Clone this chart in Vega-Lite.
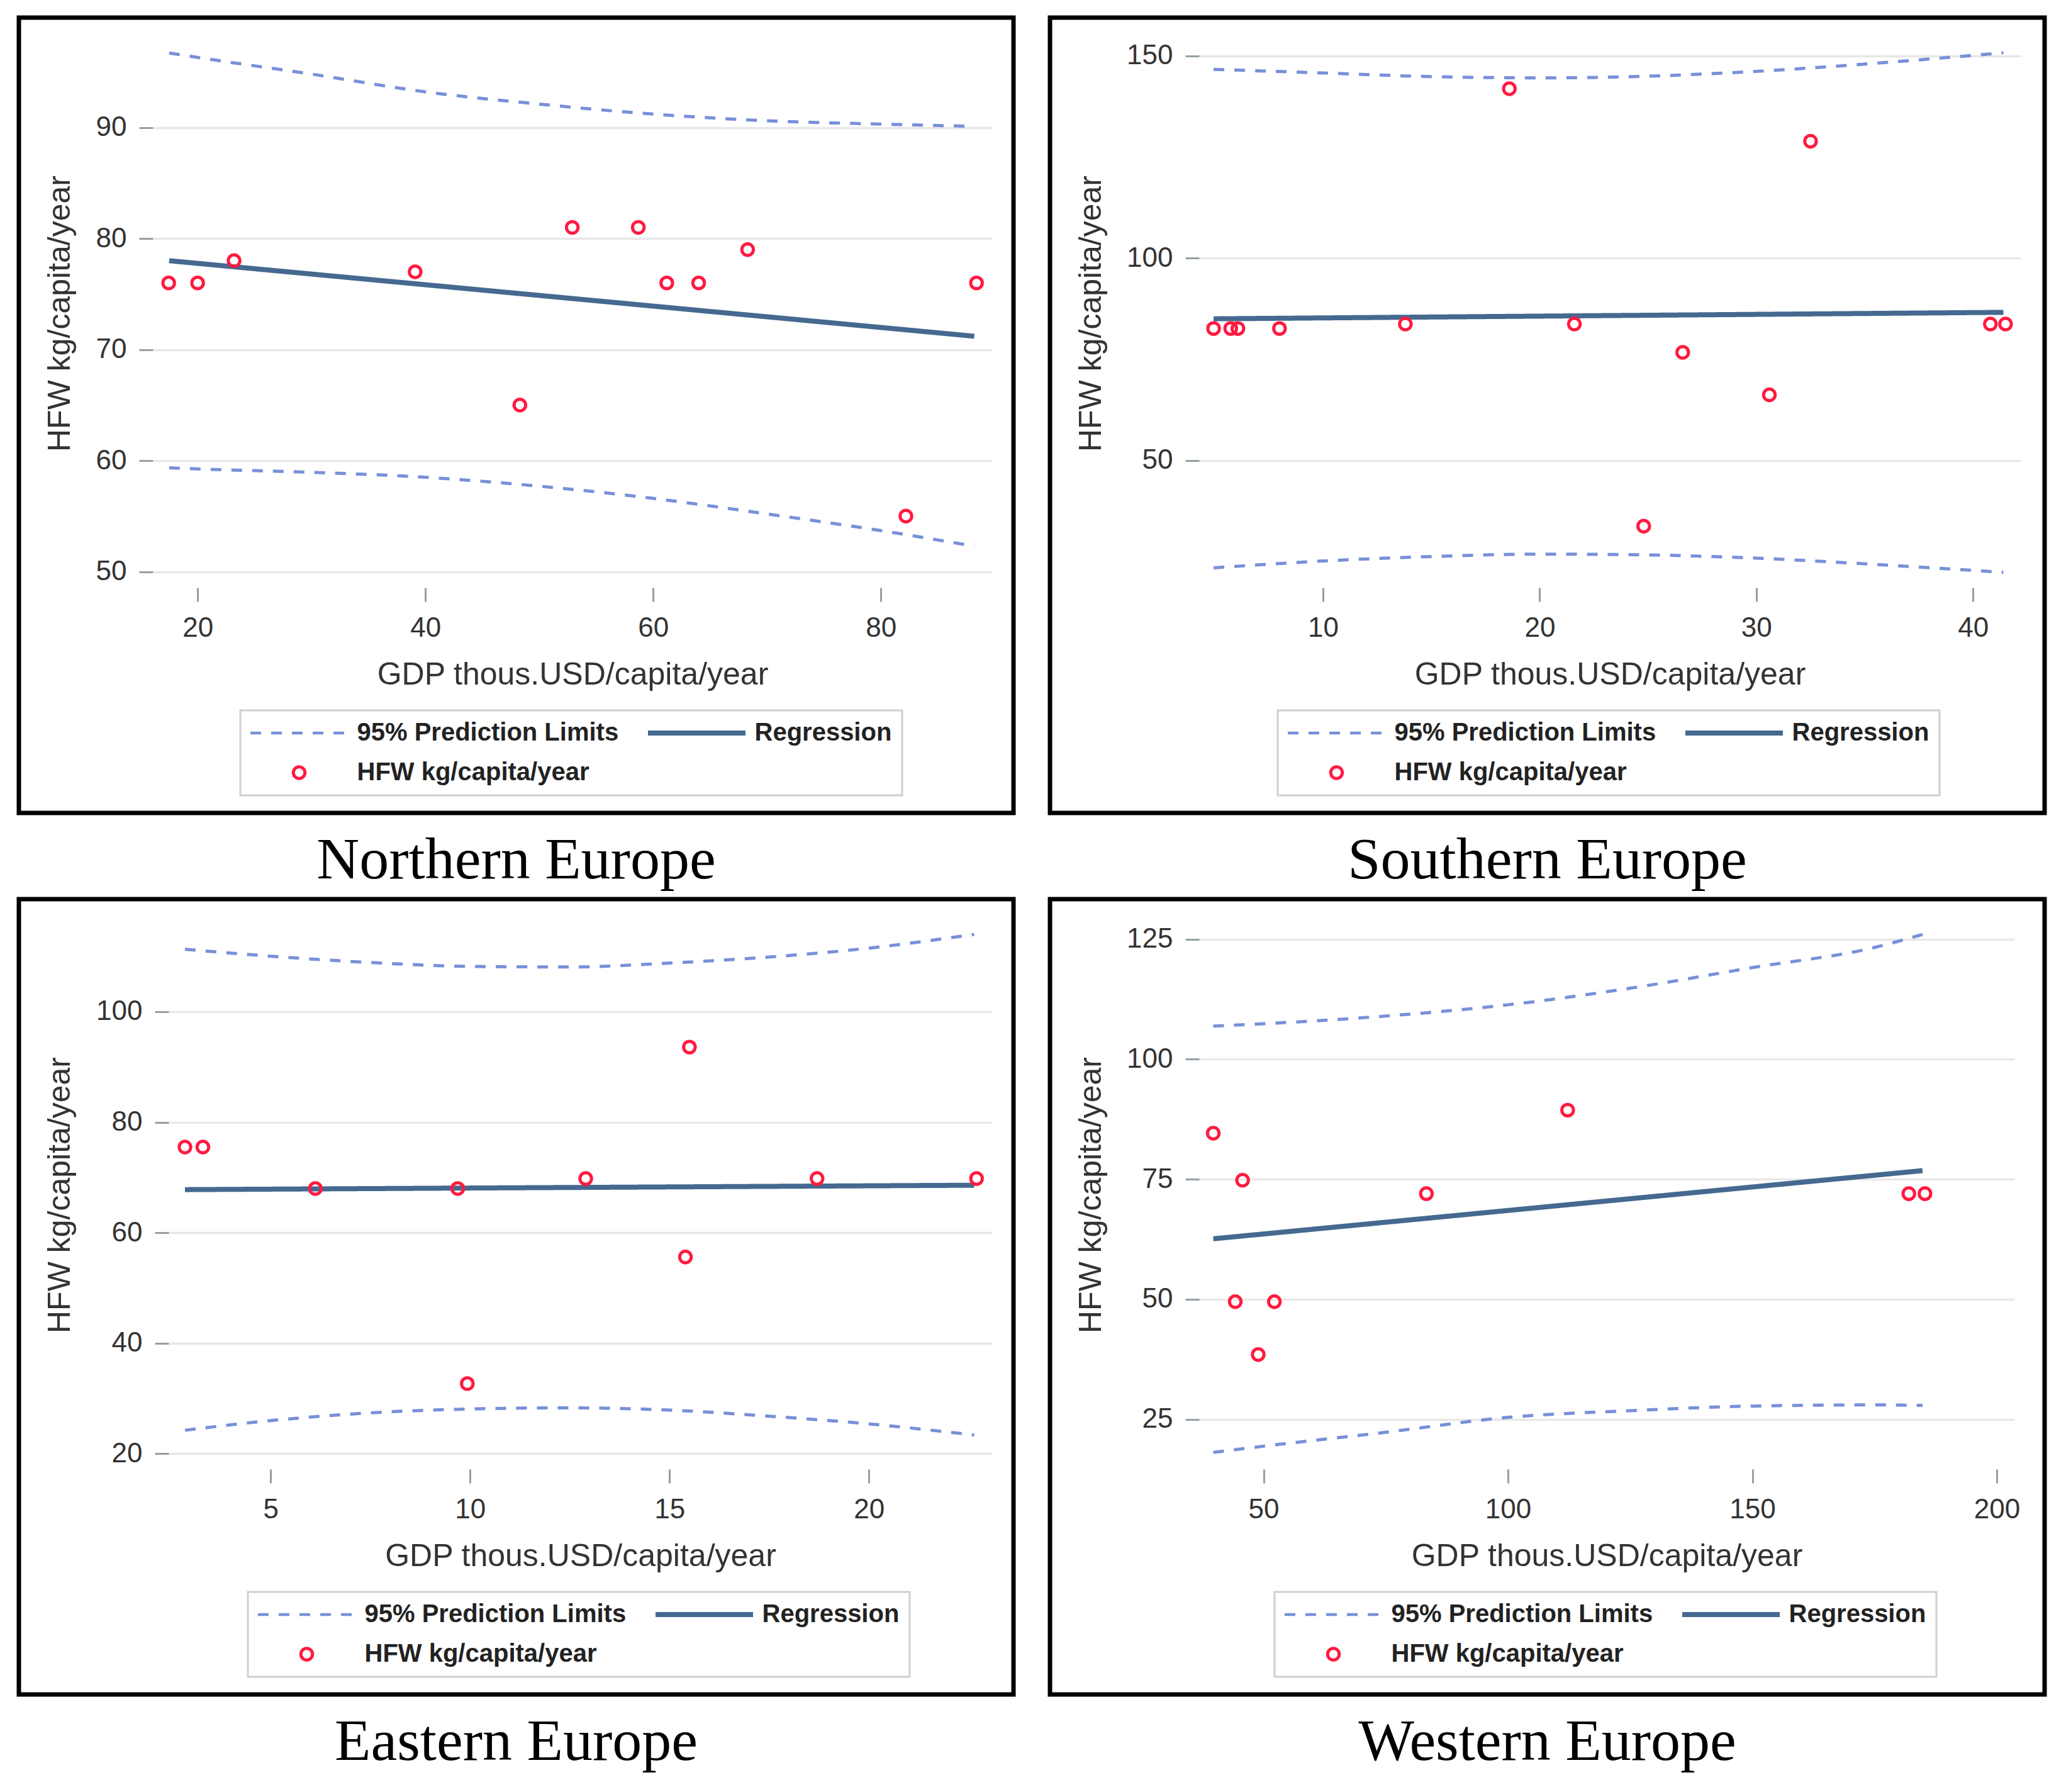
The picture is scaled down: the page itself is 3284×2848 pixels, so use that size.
{
  "$schema": "https://vega.github.io/schema/vega-lite/v6.json",
  "background": "#ffffff",
  "padding": {"left": 26, "top": 24, "right": 10, "bottom": 10},
  "columns": 2,
  "spacing": {"row": 6, "column": 50},
  "resolve": {
    "scale": {"color": "independent", "shape": "independent", "strokeDash": "independent"},
    "legend": {"color": "independent", "shape": "independent", "strokeDash": "independent"}
  },
  "concat": [
    {
      "width": 1581, "height": 1264,
      "title": {"text": "Northern Europe"},
      "data": {"values": [
        {"s": "HFW kg/capita/year", "b": "pt", "x": 17.46, "y": 76},
        {"s": "HFW kg/capita/year", "b": "pt", "x": 20.0, "y": 76},
        {"s": "HFW kg/capita/year", "b": "pt", "x": 23.2, "y": 78},
        {"s": "HFW kg/capita/year", "b": "pt", "x": 39.1, "y": 77},
        {"s": "HFW kg/capita/year", "b": "pt", "x": 48.3, "y": 65},
        {"s": "HFW kg/capita/year", "b": "pt", "x": 52.9, "y": 81},
        {"s": "HFW kg/capita/year", "b": "pt", "x": 58.7, "y": 81},
        {"s": "HFW kg/capita/year", "b": "pt", "x": 61.2, "y": 76},
        {"s": "HFW kg/capita/year", "b": "pt", "x": 64.0, "y": 76},
        {"s": "HFW kg/capita/year", "b": "pt", "x": 68.3, "y": 79},
        {"s": "HFW kg/capita/year", "b": "pt", "x": 82.2, "y": 55},
        {"s": "HFW kg/capita/year", "b": "pt", "x": 88.4, "y": 76},
        {"s": "Regression", "b": "reg", "x": 17.5, "y": 78.0},
        {"s": "Regression", "b": "reg", "x": 88.2, "y": 71.2},
        {"s": "95% Prediction Limits", "b": "upper", "x": 17.5, "y": 96.7},
        {"s": "95% Prediction Limits", "b": "upper", "x": 20, "y": 96.3},
        {"s": "95% Prediction Limits", "b": "upper", "x": 30, "y": 94.8},
        {"s": "95% Prediction Limits", "b": "upper", "x": 40, "y": 93.2},
        {"s": "95% Prediction Limits", "b": "upper", "x": 50, "y": 92.1},
        {"s": "95% Prediction Limits", "b": "upper", "x": 60, "y": 91.2},
        {"s": "95% Prediction Limits", "b": "upper", "x": 70, "y": 90.6},
        {"s": "95% Prediction Limits", "b": "upper", "x": 80, "y": 90.3},
        {"s": "95% Prediction Limits", "b": "upper", "x": 88.2, "y": 90.1},
        {"s": "95% Prediction Limits", "b": "lower", "x": 17.5, "y": 59.35},
        {"s": "95% Prediction Limits", "b": "lower", "x": 20, "y": 59.25},
        {"s": "95% Prediction Limits", "b": "lower", "x": 30, "y": 58.95},
        {"s": "95% Prediction Limits", "b": "lower", "x": 40, "y": 58.5},
        {"s": "95% Prediction Limits", "b": "lower", "x": 50, "y": 57.7},
        {"s": "95% Prediction Limits", "b": "lower", "x": 60, "y": 56.6},
        {"s": "95% Prediction Limits", "b": "lower", "x": 70, "y": 55.2},
        {"s": "95% Prediction Limits", "b": "lower", "x": 80, "y": 53.7},
        {"s": "95% Prediction Limits", "b": "lower", "x": 88.2, "y": 52.3}
      ]},
      "encoding": {
        "x": {"field": "x", "type": "quantitative", "scale": {"domain": [16.07, 89.77], "range": [213, 1547], "nice": false, "zero": false}, "axis": {"title": "GDP thous.USD/capita/year", "values": [20, 40, 60, 80], "offset": -358, "titleY": 153, "titleBaseline": "alphabetic", "grid": false}},
        "y": {"field": "y", "type": "quantitative", "scale": {"domain": [48.56, 97.96], "range": [906, 34], "nice": false, "zero": false}, "axis": {"title": "HFW kg/capita/year", "values": [50, 60, 70, 80, 90], "offset": -213, "titleX": -147.5, "titleAngle": 270, "titleBaseline": "middle"}}
      },
      "layer": [
        {"data": {"values": [{"x": 20}, {"x": 40}, {"x": 60}, {"x": 80}]}, "mark": {"type": "rule", "color": "#e8e8e8", "strokeWidth": 3.5}, "encoding": {"y": {"datum": 48.56, "type": "quantitative"}, "y2": {"datum": 97.96}}},
        {"data": {"values": [{}]}, "mark": {"type": "rect", "fill": "transparent", "stroke": "#949fa6", "strokeWidth": 3.5}, "encoding": {"x": {"datum": 16.07, "type": "quantitative"}, "x2": {"datum": 89.77}, "y": {"datum": 48.56, "type": "quantitative"}, "y2": {"datum": 97.96}}},
        {"transform": [{"filter": "datum.b === 'upper' || datum.b === 'lower'"}], "mark": {"type": "line", "strokeWidth": 5, "interpolate": "monotone"},
         "encoding": {"detail": {"field": "b"},
           "color": {"field": "s", "type": "nominal", "scale": {"domain": ["95% Prediction Limits", "HFW kg/capita/year", "Regression"], "range": ["#7890d8", "#ff1a40", "#45698f"]}, "legend": {"orient": "none", "legendX": 352, "legendY": 1101, "columns": 2, "title": null, "padding": 16, "strokeColor": "#d0d0d0", "fillColor": "#ffffff", "labelFont": "Liberation Sans", "labelFontSize": 40, "labelFontWeight": "bold", "labelColor": "#222222", "labelLimit": 2000, "labelOffset": 72, "symbolOffset": 57.5, "columnPadding": 30, "rowPadding": 23, "encode": {"legend": {"update": {"strokeWidth": {"value": 3}}}, "symbols": {"update": {"size": {"signal": "datum.value === 'HFW kg/capita/year' ? 340 : 24025"}, "strokeWidth": {"signal": "datum.value === 'Regression' ? 8 : (datum.value === 'HFW kg/capita/year' ? 5 : 4.5)"}, "fill": {"value": "transparent"}}}}}},
           "strokeDash": {"field": "s", "type": "nominal", "scale": {"domain": ["95% Prediction Limits", "HFW kg/capita/year", "Regression"], "range": [[17, 16], [1, 0], [1, 0]]}}}},
        {"transform": [{"filter": "datum.b === 'reg'"}], "mark": {"type": "line", "strokeWidth": 8},
         "encoding": {"color": {"field": "s", "type": "nominal"}, "strokeDash": {"field": "s", "type": "nominal"}}},
        {"transform": [{"filter": "datum.b === 'pt'"}], "mark": {"type": "point", "filled": false, "strokeWidth": 5, "size": 340, "opacity": 1},
         "encoding": {"color": {"field": "s", "type": "nominal"}, "shape": {"field": "s", "type": "nominal", "scale": {"domain": ["95% Prediction Limits", "HFW kg/capita/year", "Regression"], "range": ["stroke", "circle", "stroke"]}}}}
      ]
    },
    {
      "width": 1581, "height": 1264,
      "title": {"text": "Southern Europe"},
      "data": {"values": [
        {"s": "HFW kg/capita/year", "b": "pt", "x": 4.95, "y": 82.6},
        {"s": "HFW kg/capita/year", "b": "pt", "x": 5.74, "y": 82.6},
        {"s": "HFW kg/capita/year", "b": "pt", "x": 6.07, "y": 82.6},
        {"s": "HFW kg/capita/year", "b": "pt", "x": 7.99, "y": 82.6},
        {"s": "HFW kg/capita/year", "b": "pt", "x": 13.8, "y": 83.7},
        {"s": "HFW kg/capita/year", "b": "pt", "x": 18.6, "y": 141.9},
        {"s": "HFW kg/capita/year", "b": "pt", "x": 21.6, "y": 83.7},
        {"s": "HFW kg/capita/year", "b": "pt", "x": 24.8, "y": 33.7},
        {"s": "HFW kg/capita/year", "b": "pt", "x": 26.6, "y": 76.7},
        {"s": "HFW kg/capita/year", "b": "pt", "x": 30.6, "y": 66.2},
        {"s": "HFW kg/capita/year", "b": "pt", "x": 32.5, "y": 128.9},
        {"s": "HFW kg/capita/year", "b": "pt", "x": 40.8, "y": 83.7},
        {"s": "HFW kg/capita/year", "b": "pt", "x": 41.5, "y": 83.7},
        {"s": "Regression", "b": "reg", "x": 4.95, "y": 85.0},
        {"s": "Regression", "b": "reg", "x": 41.4, "y": 86.6},
        {"s": "95% Prediction Limits", "b": "upper", "x": 4.95, "y": 146.7},
        {"s": "95% Prediction Limits", "b": "upper", "x": 10, "y": 145.8},
        {"s": "95% Prediction Limits", "b": "upper", "x": 15, "y": 144.9},
        {"s": "95% Prediction Limits", "b": "upper", "x": 20, "y": 144.6},
        {"s": "95% Prediction Limits", "b": "upper", "x": 25, "y": 145.0},
        {"s": "95% Prediction Limits", "b": "upper", "x": 30, "y": 146.2},
        {"s": "95% Prediction Limits", "b": "upper", "x": 35, "y": 148.0},
        {"s": "95% Prediction Limits", "b": "upper", "x": 41.4, "y": 150.8},
        {"s": "95% Prediction Limits", "b": "lower", "x": 4.95, "y": 23.4},
        {"s": "95% Prediction Limits", "b": "lower", "x": 10, "y": 25.1},
        {"s": "95% Prediction Limits", "b": "lower", "x": 15, "y": 26.2},
        {"s": "95% Prediction Limits", "b": "lower", "x": 20, "y": 26.8},
        {"s": "95% Prediction Limits", "b": "lower", "x": 25, "y": 26.6},
        {"s": "95% Prediction Limits", "b": "lower", "x": 30, "y": 25.8},
        {"s": "95% Prediction Limits", "b": "lower", "x": 35, "y": 24.4},
        {"s": "95% Prediction Limits", "b": "lower", "x": 41.4, "y": 22.3}
      ]},
      "encoding": {
        "x": {"field": "x", "type": "quantitative", "scale": {"domain": [4.28, 42.2], "range": [237, 1543], "nice": false, "zero": false}, "axis": {"title": "GDP thous.USD/capita/year", "values": [10, 20, 30, 40], "offset": -358, "titleY": 153, "titleBaseline": "alphabetic", "grid": false}},
        "y": {"field": "y", "type": "quantitative", "scale": {"domain": [18.5, 154.2], "range": [906, 34], "nice": false, "zero": false}, "axis": {"title": "HFW kg/capita/year", "values": [50, 100, 150], "offset": -237, "titleX": -171.5, "titleAngle": 270, "titleBaseline": "middle"}}
      },
      "layer": [
        {"data": {"values": [{"x": 10}, {"x": 20}, {"x": 30}, {"x": 40}]}, "mark": {"type": "rule", "color": "#e8e8e8", "strokeWidth": 3.5}, "encoding": {"y": {"datum": 18.5, "type": "quantitative"}, "y2": {"datum": 154.2}}},
        {"data": {"values": [{}]}, "mark": {"type": "rect", "fill": "transparent", "stroke": "#949fa6", "strokeWidth": 3.5}, "encoding": {"x": {"datum": 4.28, "type": "quantitative"}, "x2": {"datum": 42.2}, "y": {"datum": 18.5, "type": "quantitative"}, "y2": {"datum": 154.2}}},
        {"transform": [{"filter": "datum.b === 'upper' || datum.b === 'lower'"}], "mark": {"type": "line", "strokeWidth": 5, "interpolate": "monotone"},
         "encoding": {"detail": {"field": "b"},
           "color": {"field": "s", "type": "nominal", "scale": {"domain": ["95% Prediction Limits", "HFW kg/capita/year", "Regression"], "range": ["#7890d8", "#ff1a40", "#45698f"]}, "legend": {"orient": "none", "legendX": 362, "legendY": 1101, "columns": 2, "title": null, "padding": 16, "strokeColor": "#d0d0d0", "fillColor": "#ffffff", "labelFont": "Liberation Sans", "labelFontSize": 40, "labelFontWeight": "bold", "labelColor": "#222222", "labelLimit": 2000, "labelOffset": 72, "symbolOffset": 57.5, "columnPadding": 30, "rowPadding": 23, "encode": {"legend": {"update": {"strokeWidth": {"value": 3}}}, "symbols": {"update": {"size": {"signal": "datum.value === 'HFW kg/capita/year' ? 340 : 24025"}, "strokeWidth": {"signal": "datum.value === 'Regression' ? 8 : (datum.value === 'HFW kg/capita/year' ? 5 : 4.5)"}, "fill": {"value": "transparent"}}}}}},
           "strokeDash": {"field": "s", "type": "nominal", "scale": {"domain": ["95% Prediction Limits", "HFW kg/capita/year", "Regression"], "range": [[17, 16], [1, 0], [1, 0]]}}}},
        {"transform": [{"filter": "datum.b === 'reg'"}], "mark": {"type": "line", "strokeWidth": 8},
         "encoding": {"color": {"field": "s", "type": "nominal"}, "strokeDash": {"field": "s", "type": "nominal"}}},
        {"transform": [{"filter": "datum.b === 'pt'"}], "mark": {"type": "point", "filled": false, "strokeWidth": 5, "size": 340, "opacity": 1},
         "encoding": {"color": {"field": "s", "type": "nominal"}, "shape": {"field": "s", "type": "nominal", "scale": {"domain": ["95% Prediction Limits", "HFW kg/capita/year", "Regression"], "range": ["stroke", "circle", "stroke"]}}}}
      ]
    },
    {
      "width": 1581, "height": 1264,
      "title": {"text": "Eastern Europe"},
      "data": {"values": [
        {"s": "HFW kg/capita/year", "b": "pt", "x": 2.85, "y": 75.5},
        {"s": "HFW kg/capita/year", "b": "pt", "x": 3.30, "y": 75.5},
        {"s": "HFW kg/capita/year", "b": "pt", "x": 6.12, "y": 68.0},
        {"s": "HFW kg/capita/year", "b": "pt", "x": 9.69, "y": 68.0},
        {"s": "HFW kg/capita/year", "b": "pt", "x": 9.93, "y": 32.7},
        {"s": "HFW kg/capita/year", "b": "pt", "x": 12.9, "y": 69.8},
        {"s": "HFW kg/capita/year", "b": "pt", "x": 15.4, "y": 55.6},
        {"s": "HFW kg/capita/year", "b": "pt", "x": 15.5, "y": 93.6},
        {"s": "HFW kg/capita/year", "b": "pt", "x": 18.7, "y": 69.8},
        {"s": "HFW kg/capita/year", "b": "pt", "x": 22.7, "y": 69.8},
        {"s": "Regression", "b": "reg", "x": 2.85, "y": 67.8},
        {"s": "Regression", "b": "reg", "x": 22.64, "y": 68.6},
        {"s": "95% Prediction Limits", "b": "upper", "x": 2.85, "y": 111.3},
        {"s": "95% Prediction Limits", "b": "upper", "x": 5, "y": 110.05},
        {"s": "95% Prediction Limits", "b": "upper", "x": 7.5, "y": 108.9},
        {"s": "95% Prediction Limits", "b": "upper", "x": 10, "y": 108.2},
        {"s": "95% Prediction Limits", "b": "upper", "x": 12.5, "y": 108.1},
        {"s": "95% Prediction Limits", "b": "upper", "x": 15, "y": 108.8},
        {"s": "95% Prediction Limits", "b": "upper", "x": 17.5, "y": 109.9},
        {"s": "95% Prediction Limits", "b": "upper", "x": 20, "y": 111.5},
        {"s": "95% Prediction Limits", "b": "upper", "x": 22.64, "y": 114.0},
        {"s": "95% Prediction Limits", "b": "lower", "x": 2.85, "y": 24.25},
        {"s": "95% Prediction Limits", "b": "lower", "x": 5, "y": 26.0},
        {"s": "95% Prediction Limits", "b": "lower", "x": 7.5, "y": 27.4},
        {"s": "95% Prediction Limits", "b": "lower", "x": 10, "y": 28.1},
        {"s": "95% Prediction Limits", "b": "lower", "x": 12.5, "y": 28.3},
        {"s": "95% Prediction Limits", "b": "lower", "x": 15, "y": 27.9},
        {"s": "95% Prediction Limits", "b": "lower", "x": 17.5, "y": 26.8},
        {"s": "95% Prediction Limits", "b": "lower", "x": 20, "y": 25.4},
        {"s": "95% Prediction Limits", "b": "lower", "x": 22.64, "y": 23.4}
      ]},
      "encoding": {
        "x": {"field": "x", "type": "quantitative", "scale": {"domain": [2.44, 23.09], "range": [238, 1547], "nice": false, "zero": false}, "axis": {"title": "GDP thous.USD/capita/year", "values": [5, 10, 15, 20], "offset": -358, "titleY": 153, "titleBaseline": "alphabetic", "grid": false}},
        "y": {"field": "y", "type": "quantitative", "scale": {"domain": [17.2, 116.5], "range": [906, 34], "nice": false, "zero": false}, "axis": {"title": "HFW kg/capita/year", "values": [20, 40, 60, 80, 100], "offset": -238, "titleX": -172.5, "titleAngle": 270, "titleBaseline": "middle"}}
      },
      "layer": [
        {"data": {"values": [{"x": 5}, {"x": 10}, {"x": 15}, {"x": 20}]}, "mark": {"type": "rule", "color": "#e8e8e8", "strokeWidth": 3.5}, "encoding": {"y": {"datum": 17.2, "type": "quantitative"}, "y2": {"datum": 116.5}}},
        {"data": {"values": [{}]}, "mark": {"type": "rect", "fill": "transparent", "stroke": "#949fa6", "strokeWidth": 3.5}, "encoding": {"x": {"datum": 2.44, "type": "quantitative"}, "x2": {"datum": 23.09}, "y": {"datum": 17.2, "type": "quantitative"}, "y2": {"datum": 116.5}}},
        {"transform": [{"filter": "datum.b === 'upper' || datum.b === 'lower'"}], "mark": {"type": "line", "strokeWidth": 5, "interpolate": "monotone"},
         "encoding": {"detail": {"field": "b"},
           "color": {"field": "s", "type": "nominal", "scale": {"domain": ["95% Prediction Limits", "HFW kg/capita/year", "Regression"], "range": ["#7890d8", "#ff1a40", "#45698f"]}, "legend": {"orient": "none", "legendX": 364, "legendY": 1101, "columns": 2, "title": null, "padding": 16, "strokeColor": "#d0d0d0", "fillColor": "#ffffff", "labelFont": "Liberation Sans", "labelFontSize": 40, "labelFontWeight": "bold", "labelColor": "#222222", "labelLimit": 2000, "labelOffset": 72, "symbolOffset": 57.5, "columnPadding": 30, "rowPadding": 23, "encode": {"legend": {"update": {"strokeWidth": {"value": 3}}}, "symbols": {"update": {"size": {"signal": "datum.value === 'HFW kg/capita/year' ? 340 : 24025"}, "strokeWidth": {"signal": "datum.value === 'Regression' ? 8 : (datum.value === 'HFW kg/capita/year' ? 5 : 4.5)"}, "fill": {"value": "transparent"}}}}}},
           "strokeDash": {"field": "s", "type": "nominal", "scale": {"domain": ["95% Prediction Limits", "HFW kg/capita/year", "Regression"], "range": [[17, 16], [1, 0], [1, 0]]}}}},
        {"transform": [{"filter": "datum.b === 'reg'"}], "mark": {"type": "line", "strokeWidth": 8},
         "encoding": {"color": {"field": "s", "type": "nominal"}, "strokeDash": {"field": "s", "type": "nominal"}}},
        {"transform": [{"filter": "datum.b === 'pt'"}], "mark": {"type": "point", "filled": false, "strokeWidth": 5, "size": 340, "opacity": 1},
         "encoding": {"color": {"field": "s", "type": "nominal"}, "shape": {"field": "s", "type": "nominal", "scale": {"domain": ["95% Prediction Limits", "HFW kg/capita/year", "Regression"], "range": ["stroke", "circle", "stroke"]}}}}
      ]
    },
    {
      "width": 1581, "height": 1264,
      "title": {"text": "Western Europe"},
      "data": {"values": [
        {"s": "HFW kg/capita/year", "b": "pt", "x": 39.7, "y": 84.6},
        {"s": "HFW kg/capita/year", "b": "pt", "x": 44.2, "y": 49.5},
        {"s": "HFW kg/capita/year", "b": "pt", "x": 45.7, "y": 74.8},
        {"s": "HFW kg/capita/year", "b": "pt", "x": 48.9, "y": 38.5},
        {"s": "HFW kg/capita/year", "b": "pt", "x": 52.2, "y": 49.5},
        {"s": "HFW kg/capita/year", "b": "pt", "x": 83.3, "y": 72.0},
        {"s": "HFW kg/capita/year", "b": "pt", "x": 112.2, "y": 89.4},
        {"s": "HFW kg/capita/year", "b": "pt", "x": 182.0, "y": 72.0},
        {"s": "HFW kg/capita/year", "b": "pt", "x": 185.3, "y": 72.0},
        {"s": "Regression", "b": "reg", "x": 39.7, "y": 62.6},
        {"s": "Regression", "b": "reg", "x": 184.8, "y": 76.8},
        {"s": "95% Prediction Limits", "b": "upper", "x": 39.7, "y": 106.9},
        {"s": "95% Prediction Limits", "b": "upper", "x": 50, "y": 107.4},
        {"s": "95% Prediction Limits", "b": "upper", "x": 75, "y": 109.0},
        {"s": "95% Prediction Limits", "b": "upper", "x": 100, "y": 111.35},
        {"s": "95% Prediction Limits", "b": "upper", "x": 125, "y": 114.8},
        {"s": "95% Prediction Limits", "b": "upper", "x": 150, "y": 119.1},
        {"s": "95% Prediction Limits", "b": "upper", "x": 175, "y": 123.3},
        {"s": "95% Prediction Limits", "b": "upper", "x": 184.8, "y": 126.0},
        {"s": "95% Prediction Limits", "b": "lower", "x": 39.7, "y": 18.1},
        {"s": "95% Prediction Limits", "b": "lower", "x": 50, "y": 19.4},
        {"s": "95% Prediction Limits", "b": "lower", "x": 75, "y": 22.3},
        {"s": "95% Prediction Limits", "b": "lower", "x": 100, "y": 25.4},
        {"s": "95% Prediction Limits", "b": "lower", "x": 125, "y": 26.8},
        {"s": "95% Prediction Limits", "b": "lower", "x": 150, "y": 27.75},
        {"s": "95% Prediction Limits", "b": "lower", "x": 175, "y": 28.0},
        {"s": "95% Prediction Limits", "b": "lower", "x": 184.8, "y": 27.9}
      ]},
      "encoding": {
        "x": {"field": "x", "type": "quantitative", "scale": {"domain": [36.8, 203.6], "range": [237, 1533], "nice": false, "zero": false}, "axis": {"title": "GDP thous.USD/capita/year", "values": [50, 100, 150, 200], "offset": -358, "titleY": 153, "titleBaseline": "alphabetic", "grid": false}},
        "y": {"field": "y", "type": "quantitative", "scale": {"domain": [14.6, 128.9], "range": [906, 34], "nice": false, "zero": false}, "axis": {"title": "HFW kg/capita/year", "values": [25, 50, 75, 100, 125], "offset": -237, "titleX": -171.5, "titleAngle": 270, "titleBaseline": "middle"}}
      },
      "layer": [
        {"data": {"values": [{"x": 50}, {"x": 100}, {"x": 150}, {"x": 200}]}, "mark": {"type": "rule", "color": "#e8e8e8", "strokeWidth": 3.5}, "encoding": {"y": {"datum": 14.6, "type": "quantitative"}, "y2": {"datum": 128.9}}},
        {"data": {"values": [{}]}, "mark": {"type": "rect", "fill": "transparent", "stroke": "#949fa6", "strokeWidth": 3.5}, "encoding": {"x": {"datum": 36.8, "type": "quantitative"}, "x2": {"datum": 203.6}, "y": {"datum": 14.6, "type": "quantitative"}, "y2": {"datum": 128.9}}},
        {"transform": [{"filter": "datum.b === 'upper' || datum.b === 'lower'"}], "mark": {"type": "line", "strokeWidth": 5, "interpolate": "monotone"},
         "encoding": {"detail": {"field": "b"},
           "color": {"field": "s", "type": "nominal", "scale": {"domain": ["95% Prediction Limits", "HFW kg/capita/year", "Regression"], "range": ["#7890d8", "#ff1a40", "#45698f"]}, "legend": {"orient": "none", "legendX": 357, "legendY": 1101, "columns": 2, "title": null, "padding": 16, "strokeColor": "#d0d0d0", "fillColor": "#ffffff", "labelFont": "Liberation Sans", "labelFontSize": 40, "labelFontWeight": "bold", "labelColor": "#222222", "labelLimit": 2000, "labelOffset": 72, "symbolOffset": 57.5, "columnPadding": 30, "rowPadding": 23, "encode": {"legend": {"update": {"strokeWidth": {"value": 3}}}, "symbols": {"update": {"size": {"signal": "datum.value === 'HFW kg/capita/year' ? 340 : 24025"}, "strokeWidth": {"signal": "datum.value === 'Regression' ? 8 : (datum.value === 'HFW kg/capita/year' ? 5 : 4.5)"}, "fill": {"value": "transparent"}}}}}},
           "strokeDash": {"field": "s", "type": "nominal", "scale": {"domain": ["95% Prediction Limits", "HFW kg/capita/year", "Regression"], "range": [[17, 16], [1, 0], [1, 0]]}}}},
        {"transform": [{"filter": "datum.b === 'reg'"}], "mark": {"type": "line", "strokeWidth": 8},
         "encoding": {"color": {"field": "s", "type": "nominal"}, "strokeDash": {"field": "s", "type": "nominal"}}},
        {"transform": [{"filter": "datum.b === 'pt'"}], "mark": {"type": "point", "filled": false, "strokeWidth": 5, "size": 340, "opacity": 1},
         "encoding": {"color": {"field": "s", "type": "nominal"}, "shape": {"field": "s", "type": "nominal", "scale": {"domain": ["95% Prediction Limits", "HFW kg/capita/year", "Regression"], "range": ["stroke", "circle", "stroke"]}}}}
      ]
    }
  ],
  "config": {
    "view": {"stroke": "#000000", "strokeWidth": 7, "fill": "#ffffff"},
    "axis": {"labelFont": "Liberation Sans", "labelFontSize": 44, "labelColor": "#333333", "titleFont": "Liberation Sans", "titleFontSize": 50, "titleFontWeight": "normal", "titleColor": "#333333", "tickColor": "#949fa6", "tickSize": 22, "tickWidth": 3, "labelPadding": 20, "domain": false, "grid": true, "gridColor": "#e8e8e8", "gridWidth": 3.5},
    "title": {"orient": "bottom", "anchor": "middle", "font": "Liberation Serif", "fontSize": 94, "fontWeight": "normal", "color": "#000000", "offset": 30}
  }
}
